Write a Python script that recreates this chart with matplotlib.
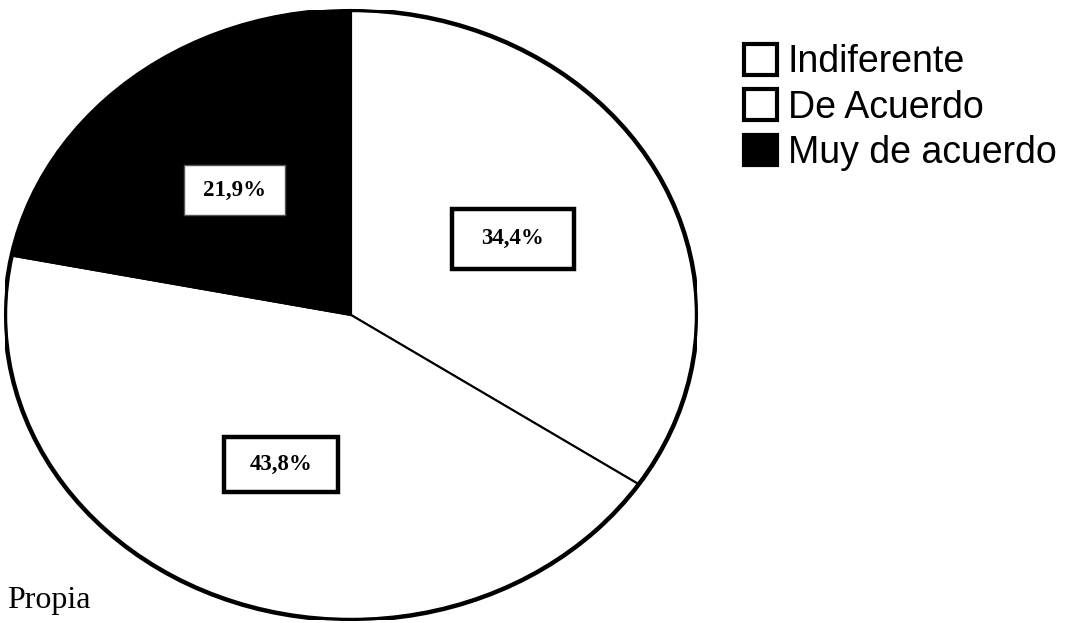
import matplotlib
matplotlib.use('Agg')
import matplotlib.pyplot as plt
from matplotlib.patches import Patch, Rectangle, Ellipse

# ============= data ==================
categorias = ["Indiferente", "De Acuerdo", "Muy de acuerdo"]
porcentajes = [34.4, 43.8, 21.9]
colores = ["white", "white", "black"]
fuente = "Propia"

W, H = 1078, 623
fig = plt.figure(figsize=(W / 100, H / 100), dpi=100)
fig.patch.set_facecolor('white')

# pie box in pixels (left, top, right, bottom)
cx, cy, rx, ry = 351, 315, 346, 305
ax = fig.add_axes([(cx - rx) / W, (H - cy - ry) / H, 2 * rx / W, 2 * ry / H])


def fmt(p):
    return ("%.1f%%" % p).replace('.', ',')


wedges, texts, autotexts = ax.pie(
    porcentajes, colors=colores, startangle=90, counterclock=False,
    autopct=fmt, pctdistance=0.53,
    wedgeprops=dict(edgecolor='black', linewidth=1.5),
    textprops=dict(family='Liberation Serif', fontweight='bold',
                   fontsize=16.5, color='black'))
ax.set_xlim(-1, 1)
ax.set_ylim(-1, 1)
ax.set_aspect('auto')
ax.axis('off')

# thick outer border
ax.add_patch(Ellipse((0, 0), 2, 2, fill=False, edgecolor='black',
                     linewidth=3.2, zorder=5))

# boxes around the percentages: (width px, height px, border)
cajas = [(122, 60, 3.2), (114, 55, 3.2), (101, 50, 1.0)]
for t, (bw, bh, lw) in zip(autotexts, cajas):
    x, y = t.get_position()
    w, h = bw / rx, bh / ry
    ax.add_patch(Rectangle((x - w / 2, y - h / 2), w, h, facecolor='white',
                           edgecolor='black' if lw > 2 else '#555555',
                           linewidth=lw, zorder=6))
    t.set_zorder(7)

handles = [Patch(facecolor=c, edgecolor='black', linewidth=3) for c in colores]
leg = fig.legend(handles, categorias, loc='upper left',
                 bbox_to_anchor=(744 / W, 1 - 44 / H),
                 frameon=False, borderpad=0, borderaxespad=0,
                 handlelength=0.88, handleheight=0.88, handletextpad=0.29,
                 labelspacing=0.24,
                 prop=dict(family='Liberation Sans', size=27))

fig.text(7 / W, 1 - 608 / H, fuente, family='Liberation Serif', fontsize=23,
         va='baseline', ha='left')

fig.savefig('out.png', dpi=100)
